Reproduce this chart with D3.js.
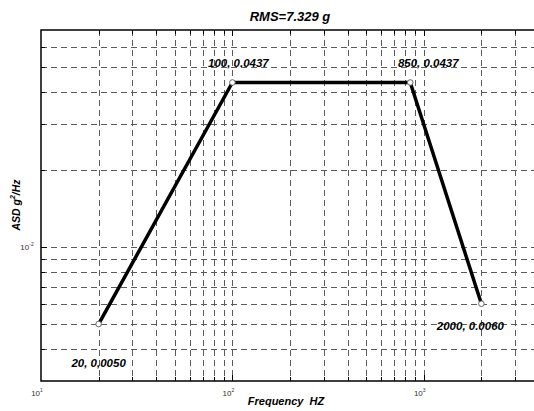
<!DOCTYPE html>
<html>
<head>
<meta charset="utf-8">
<script src="https://cdn.jsdelivr.net/npm/d3@7"></script>
<style>
  body { margin: 0; background: #fff; }
  text { font-family: "Liberation Sans", Arial, sans-serif; }
</style>
</head>
<body>
<svg id="chart"></svg>
<script>
// profile breakpoints
const freq = [20, 100, 850, 2000];
const asd = [0.0050, 0.0437, 0.0437, 0.0060];
const pointLabels = ['20, 0,0050', '100, 0.0437', '850, 0.0437', '2000, 0.0060'];
const titleText = 'RMS=7.329 g';

const xDomain = [10, 4000];
const yDomain = [0.003, 0.07];
const xTickLabels = [10, 100, 1000];
const yTickLabels = [0.01];

// label offsets from their points (dx, dy)
const labelOffsets = [[0, 43], [6, -16], [18, -16], [-11, 26]];

const width = 534, height = 411;
const margin = {left: 41, top: 30, right: -5, bottom: 30};

const svg = d3.select('#chart')
    .attr('width', width)
    .attr('height', height);

const x = d3.scaleLog()
    .domain(xDomain)
    .range([margin.left, width - margin.right]);

const y = d3.scaleLog()
    .domain(yDomain)
    .range([height - margin.bottom, margin.top]);

const x0 = x.range()[0], x1 = x.range()[1];
const y0 = y.range()[0], y1 = y.range()[1];

// minor log ticks
const xTicks = x.ticks().filter(d => d > xDomain[0] && d < xDomain[1]);
const yTicks = y.ticks().filter(d => d > yDomain[0] && d < yDomain[1]);

const grid = svg.append('g')
    .attr('stroke', '#5a5a5a')
    .attr('stroke-width', 1)
    .attr('stroke-dasharray', '6,4');

grid.selectAll('.vx').data(xTicks).enter().append('line')
    .attr('x1', d => Math.round(x(d)) + 0.5)
    .attr('x2', d => Math.round(x(d)) + 0.5)
    .attr('y1', y1)
    .attr('y2', y0);

grid.selectAll('.hy').data(yTicks).enter().append('line')
    .attr('y1', d => Math.round(y(d)) + 0.5)
    .attr('y2', d => Math.round(y(d)) + 0.5)
    .attr('x1', x0)
    .attr('x2', x1);

// inward tick marks
const ticks = svg.append('g').attr('stroke', '#000').attr('stroke-width', 1);
const isMajor = d => Math.abs(Math.log10(d) - Math.round(Math.log10(d))) < 1e-9;

ticks.selectAll('.tb').data(xTicks).enter().append('line')
    .attr('x1', d => Math.round(x(d)) + 0.5)
    .attr('x2', d => Math.round(x(d)) + 0.5)
    .attr('y1', y0)
    .attr('y2', d => y0 - (isMajor(d) ? 6 : 4));
ticks.selectAll('.tt').data(xTicks).enter().append('line')
    .attr('x1', d => Math.round(x(d)) + 0.5)
    .attr('x2', d => Math.round(x(d)) + 0.5)
    .attr('y1', y1)
    .attr('y2', d => y1 + (isMajor(d) ? 6 : 4));
ticks.selectAll('.tl').data(yTicks).enter().append('line')
    .attr('y1', d => Math.round(y(d)) + 0.5)
    .attr('y2', d => Math.round(y(d)) + 0.5)
    .attr('x1', x0)
    .attr('x2', d => x0 + (isMajor(d) ? 6 : 4));

// frame
svg.append('path')
    .attr('d', `M${x1},${y1}H${x0}V${y0}H${x1}`)
    .attr('fill', 'none')
    .attr('stroke', '#000')
    .attr('stroke-width', 1.5);

// tick labels
const xl = svg.append('g').attr('fill', '#333');
xTickLabels.forEach(v => {
    const t = xl.append('text')
        .attr('x', x(v) - 4)
        .attr('y', y0 + 15)
        .attr('font-size', 8)
        .attr('text-anchor', 'middle');
    t.append('tspan').text('10');
    t.append('tspan').attr('font-size', 5).attr('dy', -4).text(Math.round(Math.log10(v)));
});
yTickLabels.forEach(v => {
    const t = xl.append('text')
        .attr('x', x0 - 14)
        .attr('y', y(v) + 3)
        .attr('font-size', 8)
        .attr('text-anchor', 'middle');
    t.append('tspan').text('10');
    t.append('tspan').attr('font-size', 5).attr('dy', -4).text('-' + Math.abs(Math.round(Math.log10(v))));
});

// profile line
const pts = freq.map((f, i) => [f, asd[i]]);
svg.append('path')
    .datum(pts)
    .attr('d', d3.line().x(d => x(d[0])).y(d => y(d[1])))
    .attr('fill', 'none')
    .attr('stroke', '#000')
    .attr('stroke-width', 3.5)
    .attr('stroke-linejoin', 'round');

svg.selectAll('.pt').data(pts).enter().append('circle')
    .attr('cx', d => x(d[0]))
    .attr('cy', d => y(d[1]))
    .attr('r', 2.8)
    .attr('fill', '#fff')
    .attr('stroke', '#666')
    .attr('stroke-width', 1);

svg.selectAll('.lbl').data(pts).enter().append('text')
    .attr('x', (d, i) => x(d[0]) + labelOffsets[i][0])
    .attr('y', (d, i) => y(d[1]) + labelOffsets[i][1])
    .attr('text-anchor', 'middle')
    .attr('font-size', 11.5)
    .attr('font-weight', 'bold')
    .attr('font-style', 'italic')
    .attr('fill', '#000')
    .text((d, i) => pointLabels[i]);

// title and axis labels
const cx = (x0 + x1) / 2;
svg.append('text')
    .attr('x', cx)
    .attr('y', 21)
    .attr('text-anchor', 'middle')
    .attr('font-size', 13)
    .attr('font-weight', 'bold')
    .attr('font-style', 'italic')
    .text(titleText);

svg.append('text')
    .attr('x', cx - 4)
    .attr('y', 405)
    .attr('text-anchor', 'middle')
    .attr('font-size', 11)
    .attr('font-weight', 'bold')
    .attr('font-style', 'italic')
    .attr('xml:space', 'preserve')
    .text('Frequency  HZ');

const yl = svg.append('text')
    .attr('transform', 'translate(20,205) rotate(-90)')
    .attr('text-anchor', 'middle')
    .attr('font-size', 10.5)
    .attr('font-weight', 'bold')
    .attr('font-style', 'italic');
yl.append('tspan').text('ASD g');
yl.append('tspan').attr('font-size', 7).attr('dy', -5).text('2');
yl.append('tspan').attr('dy', 5).text('/Hz');
</script>
</body>
</html>
